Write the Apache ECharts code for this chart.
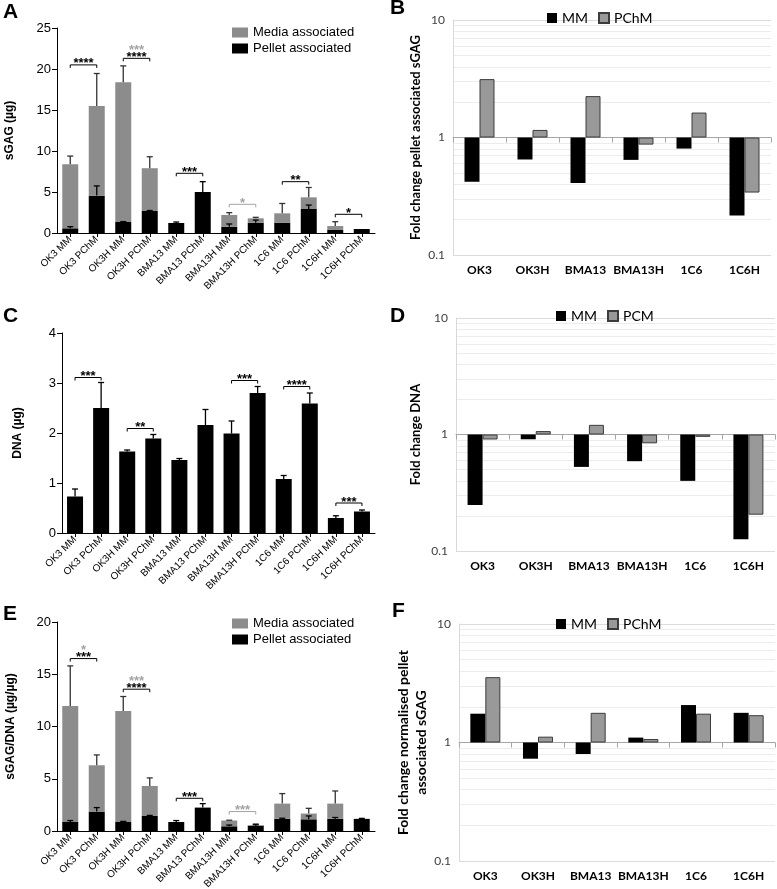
<!DOCTYPE html>
<html><head><meta charset="utf-8">
<script src="https://cdn.jsdelivr.net/npm/echarts@6/dist/echarts.min.js"></script>
<style>html,body{margin:0;padding:0;background:#fff}#c{width:777px;height:889px}</style>
</head><body><div id="c"></div>
<script>
// ---------- data ----------
const groupLabels = ['OK3 MM','OK3 PChM','OK3H MM','OK3H PChM','BMA13 MM','BMA13 PChM','BMA13H MM','BMA13H PChM','1C6 MM','1C6 PChM','1C6H MM','1C6H PChM'];
const cellLines = ['OK3','OK3H','BMA13','BMA13H','1C6','1C6H'];

// Panel A: sGAG (µg)
const aPellet   = [0.57,4.56,1.34,2.68,1.22,5.0,0.77,1.26,1.26,2.93,0.37,0.49];
const aMedia    = [7.81,10.94,17.04,5.22,0,0,1.43,0.53,1.14,1.42,0.48,0];
const aTotalSD  = [1.0,3.95,2.0,1.4,0,0,0.28,0.12,1.2,1.2,0.53,0];
const aPelletSD = [0.2,1.18,0.05,0.06,0.12,1.26,0.33,0.32,0,0.48,0,0];
// [from, to, y, black stars, grey stars]
const aBrackets = [[0,1,20.5,'****',''],[2,3,21.3,'****','***'],[4,5,7.28,'***',''],[6,7,3.5,'','*'],[8,9,6.26,'**',''],[10,11,2.28,'*','']];

// Panel B: fold change pellet associated sGAG
const bMM   = [0.42,0.65,0.41,0.645,0.805,0.217];
const bPChM = [3.14,1.16,2.25,0.87,1.63,0.34];

// Panel C: DNA (µg)
const cDNA   = [0.73,2.50,1.63,1.89,1.46,2.16,1.99,2.80,1.08,2.59,0.30,0.43];
const cDNASD = [0.15,0.51,0.03,0.08,0.03,0.31,0.25,0.13,0.07,0.21,0.045,0.03];
const cBrackets = [[0,1,3.11,'***',''],[2,3,2.09,'**',''],[6,7,3.05,'***',''],[8,9,2.93,'****',''],[10,11,0.6,'***','']];

// Panel D: fold change DNA
const dMM  = [0.248,0.91,0.527,0.59,0.40,0.126];
const dPCM = [0.906,1.07,1.21,0.84,0.955,0.205];

// Panel E: sGAG/DNA
const ePellet   = [0.86,1.86,0.86,1.44,0.86,2.24,0.45,0.5,1.17,1.12,1.17,1.16];
const eMedia    = [11.11,4.43,10.63,2.87,0,0,0.55,0.07,1.45,0.55,1.45,0];
const eTotalSD  = [3.83,0.99,1.38,0.77,0,0,0.03,0.1,0.96,0.5,1.21,0];
const ePelletSD = [0.14,0.38,0.06,0.05,0.14,0.38,0.12,0.1,0.05,0.32,0.12,0.05];
const eBrackets = [[0,1,16.5,'***','*'],[2,3,13.57,'****','***'],[4,5,3.13,'***',''],[6,7,1.86,'','***']];

// Panel F: fold change normalised pellet associated sGAG
const fMM   = [1.75,0.73,0.80,1.10,2.07,1.78];
const fPChM = [3.56,1.12,1.78,1.07,1.75,1.70];

// log-axis minor gridline positions
const logMinor = [0.2,0.3,0.4,0.5,0.6,0.7,0.8,0.9,2,3,4,5,6,7,8,9];

// ---------- styling helpers ----------
const AR = 'Liberation Sans, Arial, sans-serif';
const XL = 'Lato, Noto Sans, sans-serif';
const GREYBAR = '#8c8c8c';
const STARGREY = '#a3a3a3';

const grids = [
  {left:57,  top:28,  width:318, height:205, outerBoundsMode:'none'}, // A
  {left:453, top:20,  width:318, height:235, outerBoundsMode:'none'}, // B
  {left:62,  top:333, width:313, height:200, outerBoundsMode:'none'}, // C
  {left:456, top:318, width:319, height:233, outerBoundsMode:'none'}, // D
  {left:57,  top:622, width:318, height:209, outerBoundsMode:'none'}, // E
  {left:459, top:624, width:316, height:237, outerBoundsMode:'none'}  // F
];

function prismX(gi){
  return {type:'category', gridIndex:gi, data:groupLabels,
    axisLine:{show:true, onZero:false, lineStyle:{color:'#000', width:1}},
    axisTick:{show:true, alignWithLabel:true, length:4, lineStyle:{color:'#000'}},
    axisLabel:{rotate:45, interval:0, fontSize:10, fontFamily:AR, color:'#000', margin:5}};
}
function prismY(gi, max, interval, name, nameGap){
  return {type:'value', gridIndex:gi, min:0, max:max, interval:interval,
    name:name, nameLocation:'middle', nameGap:nameGap,
    nameTextStyle:{fontFamily:AR, fontWeight:'bold', fontSize:12, color:'#000'},
    axisLine:{show:true, lineStyle:{color:'#000'}},
    axisTick:{show:true, length:5, lineStyle:{color:'#000'}},
    axisLabel:{fontSize:13, fontFamily:AR, color:'#000', margin:6},
    splitLine:{show:false}};
}
function logX(gi){
  return {type:'category', gridIndex:gi, data:cellLines, position:'bottom',
    axisLine:{show:false}, axisTick:{show:false},
    axisLabel:{interval:0, fontFamily:XL, fontWeight:'bold', fontSize:12, color:'#000', margin:9}};
}
function logLineX(gi){
  return {type:'category', gridIndex:gi, data:cellLines, position:'top', offset:-grids[gi].height/2,
    axisLine:{show:true, onZero:false, lineStyle:{color:'#a6a6a6'}},
    axisTick:{show:true, inside:true, interval:0, length:5, lineStyle:{color:'#a6a6a6'}},
    axisLabel:{show:false}};
}
function logY(gi, name, nameGap, fs){
  return {type:'log', logBase:10, gridIndex:gi, min:0.1, max:10,
    name:name, nameLocation:'middle', nameGap:nameGap,
    nameTextStyle:{fontFamily:XL, fontWeight:'bold', fontSize:fs, lineHeight:fs+4, color:'#000'},
    axisLine:{show:true, lineStyle:{color:'#d9d9d9'}}, axisTick:{show:false},
    axisLabel:{fontFamily:XL, fontSize:12, color:'#404040', margin:8},
    splitLine:{show:true, lineStyle:{color:'#dcdcdc'}}};
}

function errSeries(xi, yi, bases, sds, color){
  const data = bases.map((b,i)=>[i, b, b + sds[i]]).filter(d => d[2] > d[1]);
  return {type:'custom', xAxisIndex:xi, yAxisIndex:yi, data:data, z:5, silent:true,
    encode:{x:0, y:1},
    renderItem:function(params, api){
      const p0 = api.coord([api.value(0), api.value(1)]);
      const p1 = api.coord([api.value(0), api.value(2)]);
      return {type:'group', children:[
        {type:'line', shape:{x1:p0[0], y1:p0[1], x2:p1[0], y2:p1[1]}, style:{stroke:color, lineWidth:1.3}},
        {type:'line', shape:{x1:p1[0]-3, y1:p1[1], x2:p1[0]+3, y2:p1[1]}, style:{stroke:color, lineWidth:1.3}}
      ]};
    }};
}
function bracketSeries(xi, yi, br){
  return {type:'custom', xAxisIndex:xi, yAxisIndex:yi, silent:true, z:6,
    data: br.map(b => [b[0], b[2], b[1]]),
    encode:{x:0, y:1},
    renderItem:function(params, api){
      const b = br[params.dataIndex];
      const p0 = api.coord([api.value(0), api.value(1)]);
      const p1 = api.coord([api.value(2), api.value(1)]);
      const lc = b[3] ? '#000' : STARGREY;
      const ch = [{type:'polyline', shape:{points:[[p0[0],p0[1]+3],[p0[0],p0[1]],[p1[0],p1[1]],[p1[0],p1[1]+3]]},
                   style:{stroke:lc, fill:null, lineWidth:1}}];
      const cx = (p0[0]+p1[0])/2;
      let y = p0[1] - 1;
      if (b[3]) {
        ch.push({type:'text', style:{text:b[3], x:cx, y:y, align:'center', verticalAlign:'middle', fill:'#000', font:'bold 13px "Liberation Sans", Arial'}});
        y -= 7;
      }
      if (b[4]) {
        ch.push({type:'text', style:{text:b[4], x:cx, y:y, align:'center', verticalAlign:'middle', fill:STARGREY, font:'bold 13px "Liberation Sans", Arial'}});
      }
      return {type:'group', children:ch};
    }};
}
function minorGrid(xi, yi){
  return {type:'line', xAxisIndex:xi, yAxisIndex:yi, data:[], silent:true, z:0,
    markLine:{silent:true, z:0, symbol:['none','none'], label:{show:false}, animation:false,
      lineStyle:{color:'#ececec', type:'solid', width:1},
      data: logMinor.map(v => ({yAxis:v}))}};
}
function logBars(xi, yi, n1, d1, n2, d2){
  return [
    {type:'bar', name:n1, xAxisIndex:xi, yAxisIndex:yi, data:d1, barWidth:15, barGap:'0%', z:3,
     itemStyle:{color:'#000'}},
    {type:'bar', name:n2, xAxisIndex:xi, yAxisIndex:yi, data:d2, barWidth:15, barGap:'0%', z:3,
     itemStyle:{color:'#999999', borderColor:'#3c3c3c', borderWidth:1}}
  ];
}
const sum = (a,b) => a.map((v,i)=>v+b[i]);

const titleStyle = {fontFamily:AR, fontWeight:'bold', fontSize:21, color:'#000'};
const option = {
  animation:false,
  backgroundColor:'#fff',
  title:[
    {text:'A', left:3, top:2, padding:0, textStyle:titleStyle},
    {text:'B', left:390, top:-2, padding:0, textStyle:titleStyle},
    {text:'C', left:3, top:306, padding:0, textStyle:titleStyle},
    {text:'D', left:390, top:306, padding:0, textStyle:titleStyle},
    {text:'E', left:3, top:604, padding:0, textStyle:titleStyle},
    {text:'F', left:392, top:601, padding:0, textStyle:titleStyle}
  ],
  legend:[
    {data:['Media associated','Pellet associated'], orient:'vertical', left:232, top:26, padding:0,
     itemWidth:16, itemHeight:10, itemGap:3, icon:'rect', selectedMode:false,
     textStyle:{fontFamily:AR, fontSize:13, color:'#000'}},
    {data:['MM','PChM'], left:547, top:11, padding:0, itemWidth:10, itemHeight:10, itemGap:10, icon:'rect', selectedMode:false,
     textStyle:{fontFamily:XL, fontSize:14, color:'#000'}},
    {data:['MM','PCM'], left:556, top:309, padding:0, itemWidth:10, itemHeight:10, itemGap:10, icon:'rect', selectedMode:false,
     textStyle:{fontFamily:XL, fontSize:14, color:'#000'}},
    {data:['Media associated','Pellet associated'], orient:'vertical', left:232, top:617, padding:0,
     itemWidth:16, itemHeight:10, itemGap:3, icon:'rect', selectedMode:false,
     textStyle:{fontFamily:AR, fontSize:13, color:'#000'}},
    {data:['MM','PChM'], left:556, top:617, padding:0, itemWidth:10, itemHeight:10, itemGap:10, icon:'rect', selectedMode:false,
     textStyle:{fontFamily:XL, fontSize:14, color:'#000'}}
  ],
  grid: grids,
  xAxis:[
    prismX(0),      // 0 A
    logX(1),        // 1 B labels
    logLineX(1),    // 2 B line at 1
    prismX(2),      // 3 C
    logX(3),        // 4 D labels
    logLineX(3),    // 5 D line
    prismX(4),      // 6 E
    logX(5),        // 7 F labels
    logLineX(5)     // 8 F line
  ],
  yAxis:[
    prismY(0, 25, 5, 'sGAG (µg)', 41),
    logY(1, 'Fold change pellet associated sGAG', 29, 13),
    prismY(2, 4, 1, 'DNA (µg)', 38),
    logY(3, 'Fold change DNA', 32, 13),
    prismY(4, 20, 5, 'sGAG/DNA (µg/µg)', 40),
    logY(5, 'Fold change normalised pellet\nassociated sGAG', 14, 14)
  ],
  series:[
    // A
    {type:'bar', name:'Pellet associated', xAxisIndex:0, yAxisIndex:0, stack:'A', data:aPellet, barWidth:16, itemStyle:{color:'#000'}},
    {type:'bar', name:'Media associated', xAxisIndex:0, yAxisIndex:0, stack:'A', data:aMedia, barWidth:16, itemStyle:{color:GREYBAR}},
    errSeries(0, 0, sum(aPellet, aMedia), aTotalSD, '#333'),
    errSeries(0, 0, aPellet, aPelletSD, '#000'),
    bracketSeries(0, 0, aBrackets),
    // B
    minorGrid(1, 1),
    ...logBars(1, 1, 'MM', bMM, 'PChM', bPChM),
    // C
    {type:'bar', name:'DNA', xAxisIndex:3, yAxisIndex:2, data:cDNA, barWidth:16, itemStyle:{color:'#000'}},
    errSeries(3, 2, cDNA, cDNASD, '#000'),
    bracketSeries(3, 2, cBrackets),
    // D
    minorGrid(4, 3),
    ...logBars(4, 3, 'MM', dMM, 'PCM', dPCM),
    // E
    {type:'bar', name:'Pellet associated', xAxisIndex:6, yAxisIndex:4, stack:'E', data:ePellet, barWidth:16, itemStyle:{color:'#000'}},
    {type:'bar', name:'Media associated', xAxisIndex:6, yAxisIndex:4, stack:'E', data:eMedia, barWidth:16, itemStyle:{color:GREYBAR}},
    errSeries(6, 4, sum(ePellet, eMedia), eTotalSD, '#333'),
    errSeries(6, 4, ePellet, ePelletSD, '#000'),
    bracketSeries(6, 4, eBrackets),
    // F
    minorGrid(7, 5),
    ...logBars(7, 5, 'MM', fMM, 'PChM', fPChM)
  ]
};
const chart = echarts.init(document.getElementById('c'));
chart.setOption(option);
</script>
</body></html>
